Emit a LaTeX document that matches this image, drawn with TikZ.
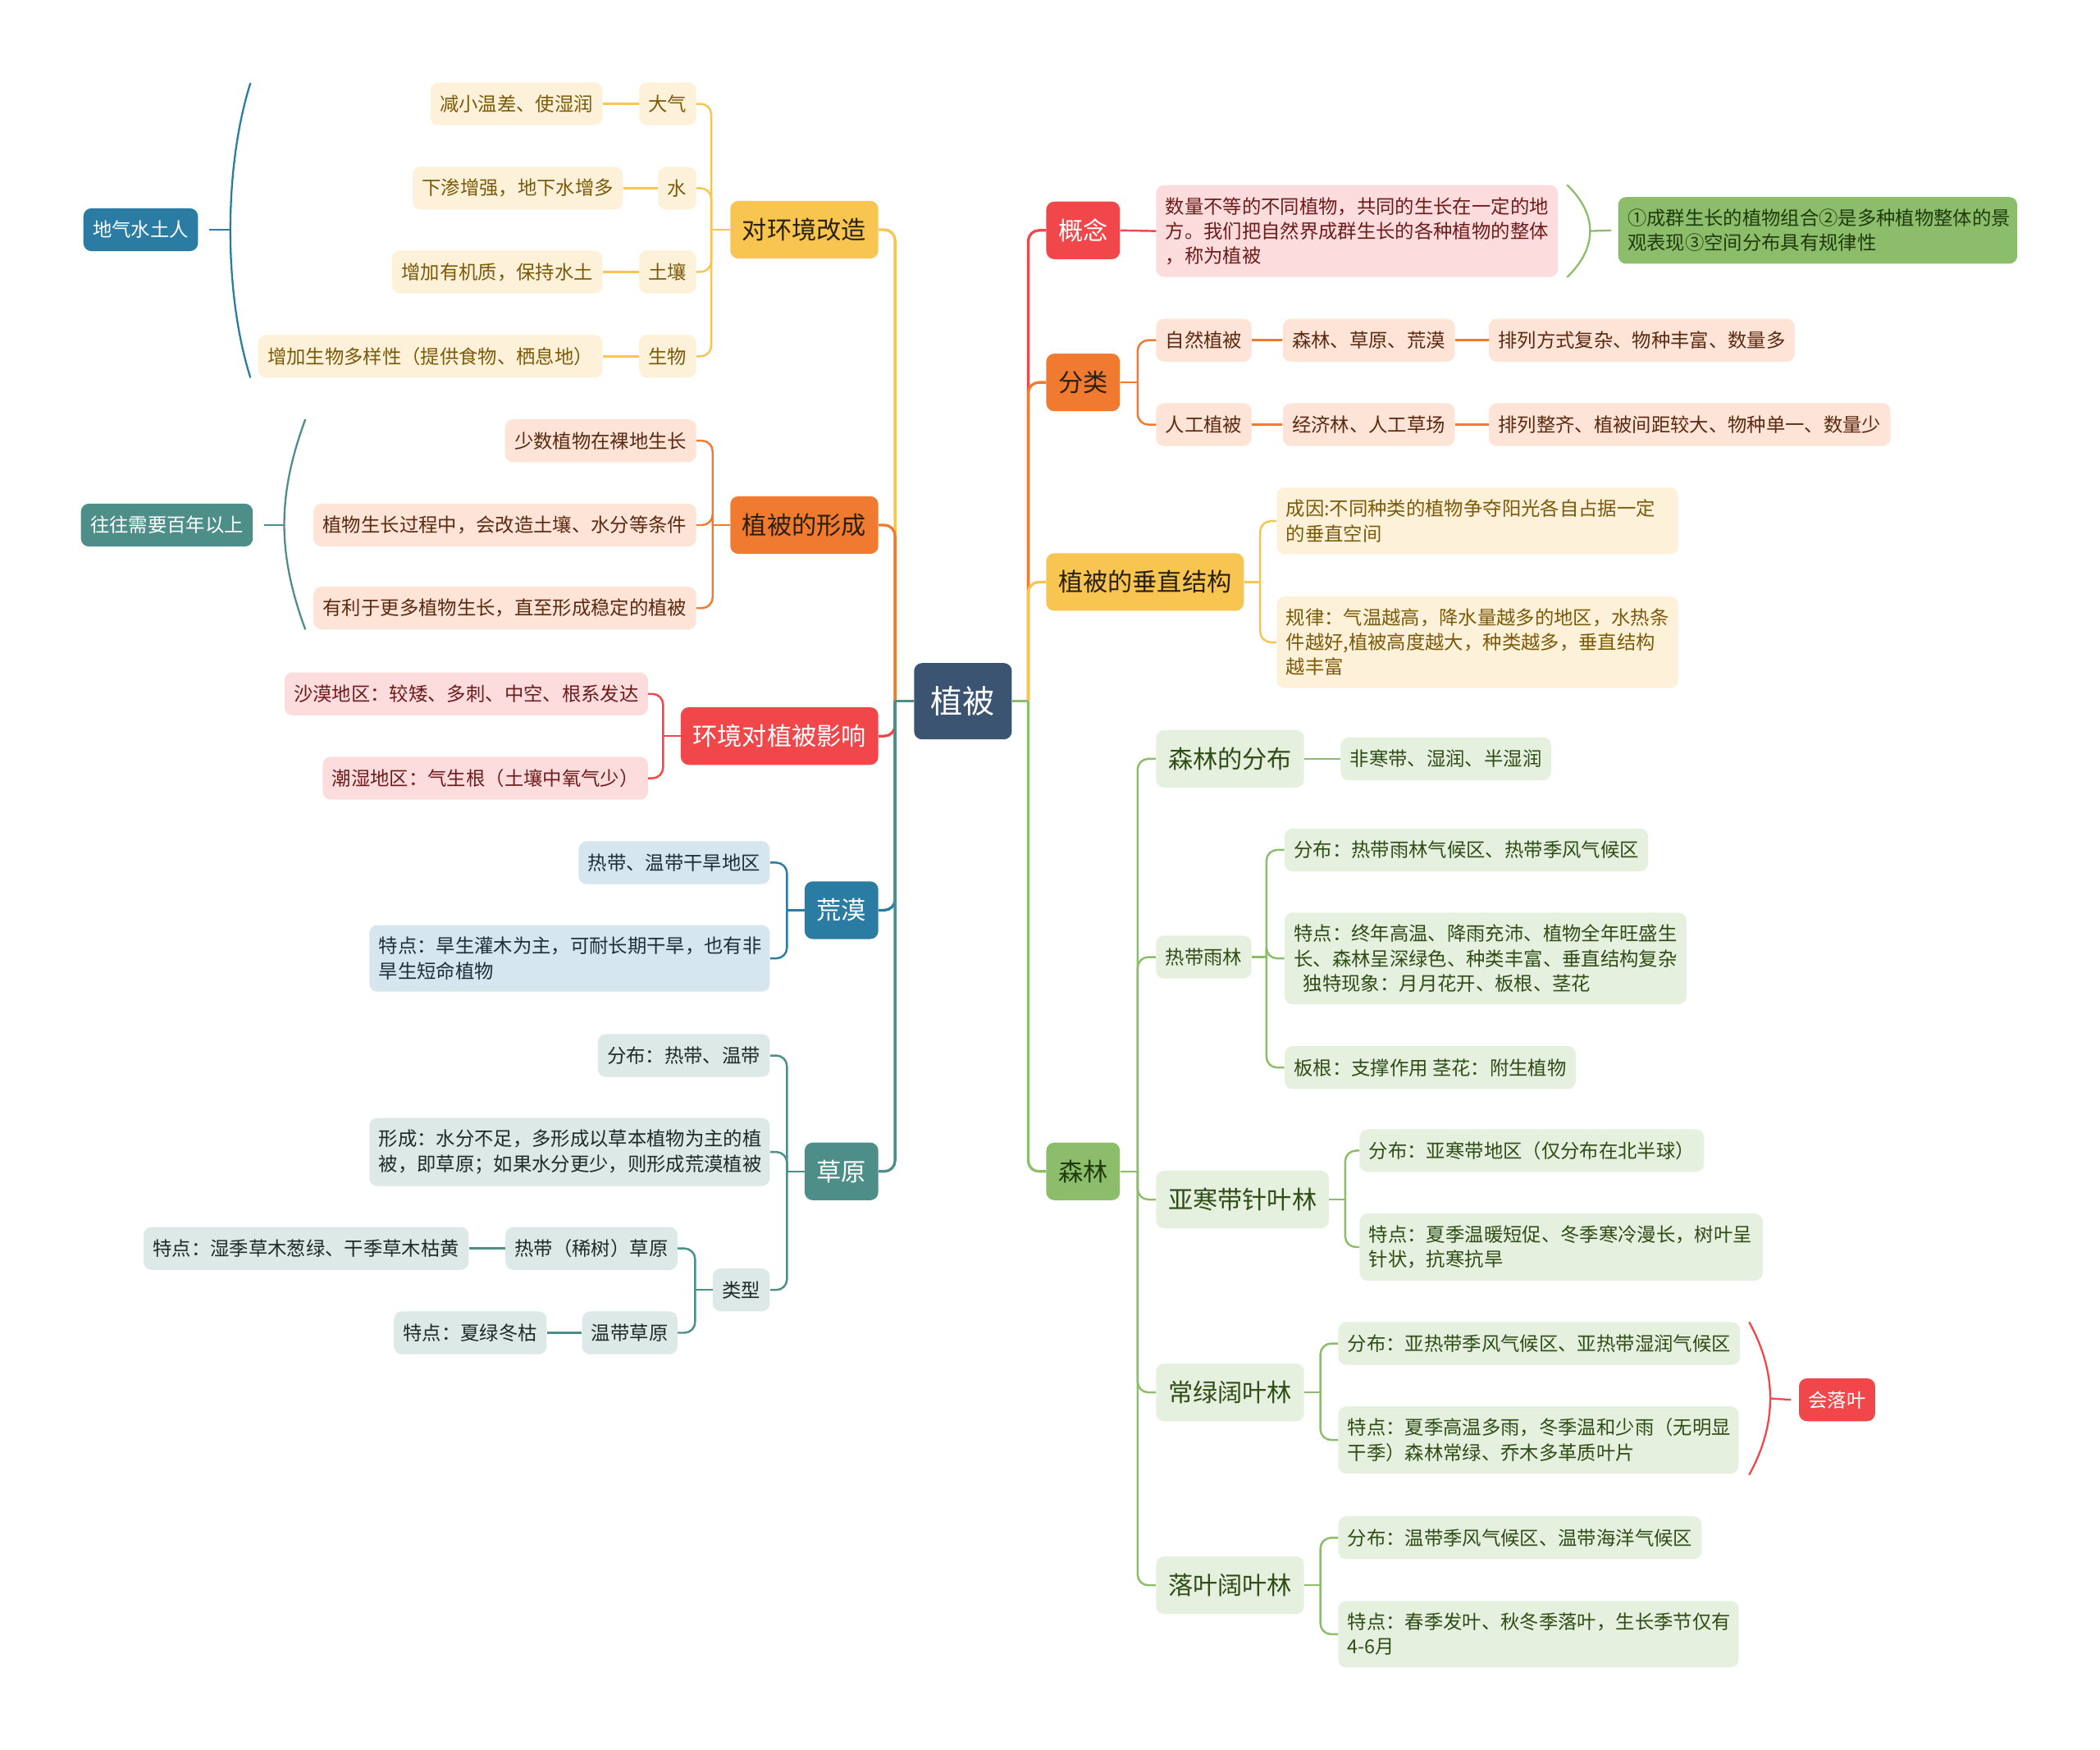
\documentclass[tikz,border=0pt]{standalone}
\usepackage{fontspec}
\setmainfont{Noto Sans CJK SC}
\usetikzlibrary{positioning,calc}
\definecolor{rootc}{HTML}{3A5472}
\definecolor{redc}{HTML}{F2474A}
\definecolor{orgc}{HTML}{F07A30}
\definecolor{yelc}{HTML}{F7C550}
\definecolor{grnc}{HTML}{8CBD6B}
\definecolor{bluc}{HTML}{2A7CA3}
\definecolor{tealc}{HTML}{4E8E89}
\definecolor{yelL}{HTML}{FDF2D9}
\definecolor{orgL}{HTML}{FDE4D6}
\definecolor{redL}{HTML}{FCDCDC}
\definecolor{bluL}{HTML}{D5E6EE}
\definecolor{tealL}{HTML}{DDE9E7}
\definecolor{grnL}{HTML}{E6F0DE}
\definecolor{yelT}{HTML}{7B5A0A}
\definecolor{orgT}{HTML}{5C2A12}
\definecolor{redT}{HTML}{6E1C1C}
\definecolor{bluT}{HTML}{1F2F38}
\definecolor{tealT}{HTML}{1E2B2A}
\definecolor{grnT}{HTML}{2F4D17}
\definecolor{grnD}{HTML}{1F3A0C}
\definecolor{darkT}{HTML}{2A2010}
\begin{document}
\begin{tikzpicture}[x=1pt,y=-1pt,
  rootbox/.style={rounded corners=6pt, fill=rootc, text=white, font=\fontsize{24}{28}\selectfont, minimum height=57pt, inner xsep=12.5pt, inner ysep=0pt},
  mainbox/.style={rounded corners=6pt, font=\fontsize{18.5}{22}\selectfont, minimum height=43pt, inner xsep=9pt, inner ysep=0pt},
  subbox/.style={rounded corners=6pt, font=\fontsize{14.3}{18}\selectfont, minimum height=32pt, inner xsep=7pt, inner ysep=0pt},
  multibox/.style={rounded corners=6pt, font=\fontsize{14.3}{18.5}\selectfont, inner xsep=7pt, inner ysep=9pt, align=left, text width=#1},
  thY/.style={fill=yelL, text=yelT},
  thO/.style={fill=orgL, text=orgT},
  thR/.style={fill=redL, text=redT},
  thB/.style={fill=bluL, text=bluT},
  thT/.style={fill=tealL, text=tealT},
  thG/.style={fill=grnL, text=grnT},
  mconn/.style={line width=2pt, rounded corners=8pt},
  conn/.style={line width=1.5pt, rounded corners=8pt},
  brk/.style={line width=1.4pt}
]
\useasboundingbox (0,0) rectangle (1568,1306);
\fill[white] (0,0) rectangle (1568,1306);

% ---------- root ----------
\node[rootbox] (root) at (719,523.5) {植被};

% ---------- right main branches ----------
\node[mainbox, fill=redc, text=white, anchor=west] (gn) at (781,172) {概念};
\node[mainbox, fill=orgc, text=darkT, anchor=west] (fl) at (781,285.5) {分类};
\node[mainbox, fill=yelc, text=darkT, anchor=west] (cz) at (781,434.5) {植被的垂直结构};
\node[mainbox, fill=grnc, text=grnD, anchor=west] (sl) at (781,874.5) {森林};

% ---------- left main branches ----------
\node[mainbox, fill=yelc, text=darkT, anchor=east] (dh) at (656,171.5) {对环境改造};
\node[mainbox, fill=orgc, text=darkT, anchor=east] (xc) at (656,392) {植被的形成};
\node[mainbox, fill=redc, text=white, anchor=east] (hj) at (656,549.5) {环境对植被影响};
\node[mainbox, fill=bluc, text=white, anchor=east] (hm) at (656,679.5) {荒漠};
\node[mainbox, fill=tealc, text=white, anchor=east] (cy) at (656,874.5) {草原};

% ---------- 对环境改造 ----------
\node[subbox, thY, anchor=east] (dq) at (520,77.5) {大气};
\node[subbox, thY, left=27pt of dq] (dq1) {减小温差、使湿润};
\node[subbox, thY, anchor=east] (sh) at (520,140.5) {水};
\node[subbox, thY, left=26pt of sh] (sh1) {下渗增强，地下水增多};
\node[subbox, thY, anchor=east] (tr) at (520,203) {土壤};
\node[subbox, thY, left=27pt of tr] (tr1) {增加有机质，保持水土};
\node[subbox, thY, anchor=east] (sw) at (520,266) {生物};
\node[subbox, thY, left=27pt of sw] (sw1) {增加生物多样性（提供食物、栖息地）};
\node[subbox, fill=bluc, text=white, anchor=east] (dsum) at (148,171.5) {地气水土人};

% ---------- 植被的形成 ----------
\node[subbox, thO, anchor=east] (xc1) at (520,329) {少数植物在裸地生长};
\node[subbox, thO, anchor=east] (xc2) at (520,392) {植物生长过程中，会改造土壤、水分等条件};
\node[subbox, thO, anchor=east] (xc3) at (520,454) {有利于更多植物生长，直至形成稳定的植被};
\node[subbox, fill=tealc, text=white, anchor=east] (xsum) at (189,392) {往往需要百年以上};

% ---------- 环境对植被影响 ----------
\node[subbox, thR, anchor=east] (hj1) at (484,518) {沙漠地区：较矮、多刺、中空、根系发达};
\node[subbox, thR, anchor=east] (hj2) at (484,581) {潮湿地区：气生根（土壤中氧气少）};

% ---------- 荒漠 ----------
\node[subbox, thB, anchor=east] (hm1) at (575,644) {热带、温带干旱地区};
\node[multibox=285pt, thB, anchor=east] (hm2) at (575,715.5) {特点：旱生灌木为主，可耐长期干旱，也有非\\旱生短命植物};

% ---------- 草原 ----------
\node[subbox, thT, anchor=east] (cy1) at (575,788) {分布：热带、温带};
\node[multibox=285pt, thT, anchor=east] (cy2) at (575,860) {形成：水分不足，多形成以草本植物为主的植\\被，即草原；如果水分更少，则形成荒漠植被};
\node[subbox, thT, anchor=east] (cy3) at (575,963) {类型};
\node[subbox, thT, anchor=east] (cy31) at (506,932) {热带（稀树）草原};
\node[subbox, thT, left=27pt of cy31] (cy311) {特点：湿季草木葱绿、干季草木枯黄};
\node[subbox, thT, anchor=east] (cy32) at (506,995) {温带草原};
\node[subbox, thT, left=26pt of cy32] (cy321) {特点：夏绿冬枯};

% ---------- 概念 ----------
\node[multibox=286pt, thR, anchor=west] (gn1) at (863,172.5) {数量不等的不同植物，共同的生长在一定的地\\方。我们把自然界成群生长的各种植物的整体\\，称为植被};
\node[multibox=284pt, fill=grnc, text=grnD, anchor=west] (gsum) at (1208,172) {①成群生长的植物组合②是多种植物整体的景\\观表现③空间分布具有规律性};

% ---------- 分类 ----------
\node[subbox, thO, anchor=west] (fl1) at (863,254) {自然植被};
\node[subbox, thO, right=23pt of fl1] (fl11) {森林、草原、荒漠};
\node[subbox, thO, right=25pt of fl11] (fl111) {排列方式复杂、物种丰富、数量多};
\node[subbox, thO, anchor=west] (fl2) at (863,317) {人工植被};
\node[subbox, thO, right=23pt of fl2] (fl21) {经济林、人工草场};
\node[subbox, thO, right=25pt of fl21] (fl211) {排列整齐、植被间距较大、物种单一、数量少};

% ---------- 植被的垂直结构 ----------
\node[multibox=286pt, thY, anchor=west] (cz1) at (953,389) {成因:不同种类的植物争夺阳光各自占据一定\\的垂直空间};
\node[multibox=286pt, thY, anchor=west] (cz2) at (953,479.5) {规律：气温越高，降水量越多的地区，水热条\\件越好,植被高度越大，种类越多，垂直结构\\越丰富};

% ---------- 森林 ----------
\node[mainbox, thG, anchor=west] (sl1) at (863,566.5) {森林的分布};
\node[subbox, thG, right=27pt of sl1] (sl11) {非寒带、湿润、半湿润};
\node[subbox, thG, anchor=west] (sl2) at (863,714.5) {热带雨林};
\node[subbox, thG, anchor=west] (sl21) at (959,634.5) {分布：热带雨林气候区、热带季风气候区};
\node[multibox=286pt, thG, anchor=west] (sl22) at (959,715.5) {特点：终年高温、降雨充沛、植物全年旺盛生\\长、森林呈深绿色、种类丰富、垂直结构复杂\\\hspace*{7pt}独特现象：月月花开、板根、茎花};
\node[subbox, thG, anchor=west] (sl23) at (959,797) {板根：支撑作用 茎花：附生植物};
\node[mainbox, thG, anchor=west] (sl3) at (863,895.5) {亚寒带针叶林};
\node[subbox, thG, anchor=west] (sl31) at (1015,859) {分布：亚寒带地区（仅分布在北半球）};
\node[multibox=287pt, thG, anchor=west] (sl32) at (1015,931) {特点：夏季温暖短促、冬季寒冷漫长，树叶呈\\针状，抗寒抗旱};
\node[mainbox, thG, anchor=west] (sl4) at (863,1039.5) {常绿阔叶林};
\node[subbox, thG, anchor=west] (sl41) at (999,1003) {分布：亚热带季风气候区、亚热带湿润气候区};
\node[multibox=285pt, thG, anchor=west] (sl42) at (999,1075) {特点：夏季高温多雨，冬季温和少雨（无明显\\干季）森林常绿、乔木多革质叶片};
\node[subbox, fill=redc, text=white, anchor=west] (hl) at (1343,1045) {会落叶};
\node[mainbox, thG, anchor=west] (sl5) at (863,1183.5) {落叶阔叶林};
\node[subbox, thG, anchor=west] (sl51) at (999,1148) {分布：温带季风气候区、温带海洋气候区};
\node[multibox=285pt, thG, anchor=west] (sl52) at (999,1220) {特点：春季发叶、秋冬季落叶，生长季节仅有\\4-6月};

% ================= connectors =================
% root right
\coordinate (rjR) at ([xshift=12pt]root.east);
\draw[mconn, redc] (rjR) |- (gn.west);
\draw[mconn, orgc] (rjR) |- (fl.west);
\draw[mconn, yelc] (rjR) |- (cz.west);
\draw[mconn, grnc] (rjR) |- (sl.west);
\draw[mconn, grnc] (root.east) -- (rjR);
% root left
\coordinate (rjL) at ([xshift=-14pt]root.west);
\draw[mconn, yelc] (rjL) |- (dh.east);
\draw[mconn, orgc] (rjL) |- (xc.east);
\draw[mconn, redc] (rjL) |- (hj.east);
\draw[mconn, bluc] (rjL) |- (hm.east);
\draw[mconn, tealc] (rjL) |- (cy.east);
\draw[mconn, tealc] (root.west) -- (rjL);

% 对环境改造
\coordinate (jdh) at ([xshift=-14pt]dh.west);
\draw[conn, yelc] (dh.west) -- (jdh);
\foreach \c in {dq,sh,tr,sw} \draw[conn, yelc] (jdh) |- (\c.east);
\draw[conn, yelc] (dq.west) -- (dq1.east);
\draw[conn, yelc] (sh.west) -- (sh1.east);
\draw[conn, yelc] (tr.west) -- (tr1.east);
\draw[conn, yelc] (sw.west) -- (sw1.east);
\draw[brk, bluc] (187,62) .. controls (167,125) and (167,219) .. (187,282);
\coordinate (bk1) at (172,171.5);
\draw[brk, bluc] (bk1) -- ([xshift=8pt]dsum.east);

% 植被的形成
\coordinate (jxc) at ([xshift=-13pt]xc.west);
\draw[conn, orgc] (xc.west) -- (jxc);
\foreach \c in {xc1,xc2,xc3} \draw[conn, orgc] (jxc) |- (\c.east);
\draw[brk, tealc] (228,313) .. controls (207,370) and (207,413) .. (228,470);
\coordinate (bk2) at (212,392);
\draw[brk, tealc] (bk2) -- ([xshift=8pt]xsum.east);

% 环境对植被影响
\coordinate (jhj) at ([xshift=-13pt]hj.west);
\draw[conn, redc] (hj.west) -- (jhj);
\foreach \c in {hj1,hj2} \draw[conn, redc] (jhj) |- (\c.east);

% 荒漠
\coordinate (jhm) at ([xshift=-13pt]hm.west);
\draw[conn, bluc] (hm.west) -- (jhm);
\foreach \c in {hm1,hm2} \draw[conn, bluc] (jhm) |- (\c.east);

% 草原
\coordinate (jcy) at ([xshift=-13pt]cy.west);
\draw[conn, tealc] (cy.west) -- (jcy);
\foreach \c in {cy1,cy2,cy3} \draw[conn, tealc] (jcy) |- (\c.east);
\coordinate (jcy3) at ([xshift=-13pt]cy3.west);
\draw[conn, tealc] (cy3.west) -- (jcy3);
\foreach \c in {cy31,cy32} \draw[conn, tealc] (jcy3) |- (\c.east);
\draw[conn, tealc] (cy31.west) -- (cy311.east);
\draw[conn, tealc] (cy32.west) -- (cy321.east);

% 概念
\draw[conn, redc] (gn.east) -- (gn1.west);
\draw[brk, grnc] (1170,138) .. controls (1193,160) and (1193,185) .. (1170,207);
\coordinate (bk3) at (1187,172.5);
\draw[brk, grnc] (bk3) -- ([xshift=-5pt]gsum.west);

% 分类
\coordinate (jfl) at ([xshift=13pt]fl.east);
\draw[conn, orgc] (fl.east) -- (jfl);
\foreach \c in {fl1,fl2} \draw[conn, orgc] (jfl) |- (\c.west);
\draw[conn, orgc] (fl1.east) -- (fl11.west);
\draw[conn, orgc] (fl11.east) -- (fl111.west);
\draw[conn, orgc] (fl2.east) -- (fl21.west);
\draw[conn, orgc] (fl21.east) -- (fl211.west);

% 垂直结构
\coordinate (jcz) at ([xshift=12pt]cz.east);
\draw[conn, yelc] (cz.east) -- (jcz);
\foreach \c in {cz1,cz2} \draw[conn, yelc] (jcz) |- (\c.west);

% 森林
\coordinate (jsl) at ([xshift=13pt]sl.east);
\draw[conn, grnc] (sl.east) -- (jsl);
\foreach \c in {sl1,sl2,sl3,sl4,sl5} \draw[conn, grnc] (jsl) |- (\c.west);
\draw[conn, grnc] (sl1.east) -- (sl11.west);
\coordinate (jsl2) at ([xshift=11pt]sl2.east);
\draw[conn, grnc] (sl2.east) -- (jsl2);
\foreach \c in {sl21,sl22,sl23} \draw[conn, grnc] (jsl2) |- (\c.west);
\coordinate (jsl3) at ([xshift=12pt]sl3.east);
\draw[conn, grnc] (sl3.east) -- (jsl3);
\foreach \c in {sl31,sl32} \draw[conn, grnc] (jsl3) |- (\c.west);
\coordinate (jsl4) at ([xshift=12pt]sl4.east);
\draw[conn, grnc] (sl4.east) -- (jsl4);
\foreach \c in {sl41,sl42} \draw[conn, grnc] (jsl4) |- (\c.west);
\coordinate (jsl5) at ([xshift=12pt]sl5.east);
\draw[conn, grnc] (sl5.east) -- (jsl5);
\foreach \c in {sl51,sl52} \draw[conn, grnc] (jsl5) |- (\c.west);
\draw[brk, redc] (1306,987) .. controls (1327,1025) and (1327,1063) .. (1306,1101);
\coordinate (bk4) at (1322,1044);
\draw[brk, redc] (bk4) -- ([xshift=-6pt]hl.west);
\end{tikzpicture}
\end{document}
